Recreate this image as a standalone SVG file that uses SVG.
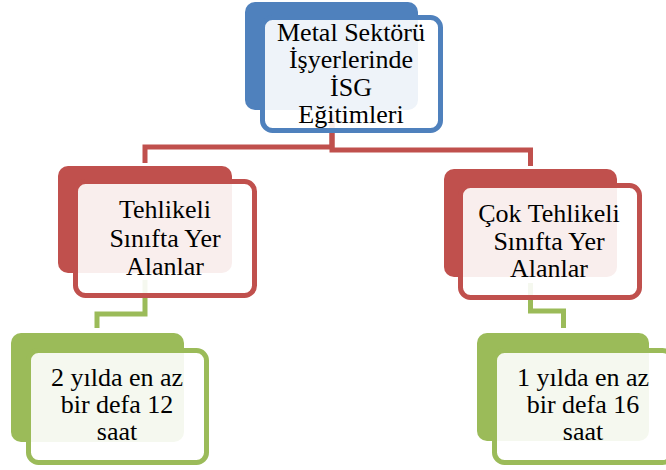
<svg xmlns="http://www.w3.org/2000/svg" width="666" height="470" viewBox="0 0 666 470">
<style>
.t{font-family:"Liberation Serif","Times New Roman",serif;font-size:26px;fill:#000;text-anchor:middle}
.front{fill:#fff;fill-opacity:0.9;stroke-width:5}
.con{fill:none;stroke-width:5;stroke-linejoin:miter}
.blue .back{fill:#4F81BD}.blue .front{stroke:#4F81BD}
.red .back{fill:#C0504D}.red .front{stroke:#C0504D}
.green .back{fill:#9BBB59}.green .front{stroke:#9BBB59}
</style>
<rect width="666" height="470" fill="#fff"/>
<g id="connectors">
<path class="con" stroke="#C0504D" d="M332,115 V147 H145 V163"/>
<path class="con" stroke="#C0504D" d="M332,115 V150 H530.5 V166"/>
<path class="con" stroke="#9BBB59" d="M145,280 V314 H97 V328"/>
<path class="con" stroke="#9BBB59" d="M530.5,283 V311 H563.5 V328"/>
</g>
<g id="node-top" class="blue">
<rect class="back" x="245" y="2" width="173" height="108" rx="10"/>
<rect class="front" x="262.5" y="17.5" width="178" height="113" rx="10"/>
<text class="t" x="351" y="41">Metal Sektörü</text>
<text class="t" x="351" y="68">İşyerlerinde</text>
<text class="t" x="351" y="96">İSG</text>
<text class="t" x="351" y="123">Eğitimleri</text>
</g>
<g id="node-tehlikeli" class="red">
<rect class="back" x="58" y="166" width="174" height="107" rx="10"/>
<rect class="front" x="75.5" y="181.5" width="179" height="114" rx="10"/>
<text class="t" x="165" y="218">Tehlikeli</text>
<text class="t" x="165" y="247">Sınıfta Yer</text>
<text class="t" x="165" y="275">Alanlar</text>
</g>
<g id="node-cok-tehlikeli" class="red">
<rect class="back" x="444" y="169" width="173" height="108" rx="10"/>
<rect class="front" x="460.5" y="185.5" width="179" height="112" rx="10"/>
<text class="t" x="549" y="222">Çok Tehlikeli</text>
<text class="t" x="549" y="250">Sınıfta Yer</text>
<text class="t" x="549" y="277">Alanlar</text>
</g>
<g id="node-2-yil" class="green">
<rect class="back" x="11" y="333" width="173" height="109" rx="10"/>
<rect class="front" x="28.5" y="350.5" width="178" height="112" rx="10"/>
<text class="t" x="117" y="386">2 yılda en az</text>
<text class="t" x="117" y="413">bir defa 12</text>
<text class="t" x="117" y="440">saat</text>
</g>
<g id="node-1-yil" class="green">
<rect class="back" x="477" y="333" width="172" height="108" rx="10"/>
<rect class="front" x="494.5" y="350.5" width="178" height="112" rx="10"/>
<text class="t" x="583" y="386">1 yılda en az</text>
<text class="t" x="583" y="413">bir defa 16</text>
<text class="t" x="583" y="440">saat</text>
</g>
</svg>
